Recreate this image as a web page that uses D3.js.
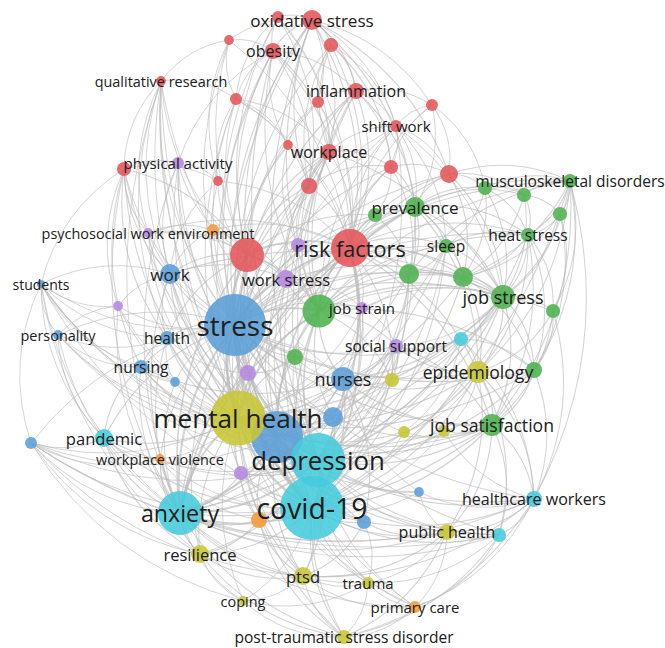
<!DOCTYPE html>
<html>
<head>
<meta charset="utf-8">
<script src="https://cdn.jsdelivr.net/npm/d3@7"></script>
<style>
  html, body { margin: 0; padding: 0; background: #fff; }
  svg { display: block; }
  .term { font-family: "Open Sans", "Noto Sans", sans-serif; fill: #202020; }
</style>
</head>
<body>
<svg id="map" width="665" height="648"></svg>
<script>
// Keyword co-occurrence map. Each item: [id, label (null = label hidden), mapX, mapY, occurrences]
const cluster1 = [ // red
  ["r0", "oxidative stress", 31.2, 2.0, 42],
  ["r1", null, 27.8, 1.7, 15],
  ["r2", null, 22.9, 4.0, 10],
  ["r3", "obesity", 27.3, 5.1, 27],
  ["r4", null, 33.1, 4.5, 21],
  ["r5", "qualitative research", 16.1, 8.1, 10],
  ["r6", null, 23.6, 9.9, 15],
  ["r7", "inflammation", 35.6, 9.1, 27],
  ["r8", null, 31.8, 10.2, 15],
  ["r9", null, 43.2, 10.5, 15],
  ["r10", "shift work", 39.6, 12.6, 15],
  ["r11", null, 28.8, 14.5, 10],
  ["r12", "workplace", 32.9, 15.2, 27],
  ["r13", null, 39.1, 16.7, 21],
  ["r14", null, 44.9, 17.4, 34],
  ["r15", null, 30.9, 18.6, 27],
  ["r16", null, 21.8, 18.1, 10],
  ["r17", null, 12.4, 16.9, 21],
  ["r18", null, 24.7, 25.5, 121],
  ["r19", "risk factors", 35.0, 24.8, 152]
];
const cluster2 = [ // green
  ["g0", "prevalence", 41.5, 20.7, 42],
  ["g1", null, 37.5, 21.5, 21],
  ["g2", null, 48.5, 18.8, 21],
  ["g3", null, 52.4, 19.5, 21],
  ["g4", "musculoskeletal disorders", 57.0, 18.1, 21],
  ["g5", null, 56.0, 21.4, 21],
  ["g6", "heat stress", 52.8, 23.5, 21],
  ["g7", "sleep", 44.6, 24.6, 21],
  ["g8", null, 40.9, 27.4, 42],
  ["g9", null, 46.3, 27.7, 42],
  ["g10", "job stress", 50.3, 29.7, 60],
  ["g11", null, 55.3, 31.1, 21],
  ["g12", null, 31.9, 31.1, 115],
  ["g13", null, 29.5, 35.7, 27],
  ["g14", null, 53.4, 37.0, 27],
  ["g15", "job satisfaction", 49.2, 42.5, 51]
];
const cluster3 = [ // blue
  ["b0", "stress", 23.5, 32.5, 404],
  ["b1", "work", 17.0, 27.4, 42],
  ["b2", "students", 4.1, 28.4, 7],
  ["b3", "personality", 5.8, 33.5, 10],
  ["b4", "health", 16.7, 33.8, 21],
  ["b5", "nursing", 14.1, 36.7, 21],
  ["b6", null, 17.5, 38.2, 10],
  ["b7", "nurses", 34.3, 37.9, 60],
  ["b8", null, 33.3, 41.7, 42],
  ["b9", null, 27.7, 43.7, 284],
  ["b10", null, 3.1, 44.3, 15],
  ["b11", null, 41.9, 49.2, 10],
  ["b12", null, 36.4, 52.2, 21]
];
const cluster4 = [ // purple
  ["p0", "physical activity", 17.8, 16.3, 15],
  ["p1", "psychosocial work environment", 14.8, 23.3, 10],
  ["p2", null, 29.8, 24.5, 21],
  ["p3", "work stress", 28.6, 27.9, 34],
  ["p4", "job strain", 36.2, 30.8, 15],
  ["p5", "social support", 39.6, 34.6, 21],
  ["p6", null, 24.8, 37.3, 27],
  ["p7", null, 24.1, 47.3, 21],
  ["p8", null, 11.8, 30.6, 10]
];
const cluster5 = [ // cyan
  ["c0", "depression", 31.8, 46.0, 306],
  ["c1", "covid-19", 31.2, 50.8, 430],
  ["c2", "anxiety", 18.0, 51.3, 203],
  ["c3", "pandemic", 10.4, 43.8, 34],
  ["c4", null, 46.1, 33.9, 21],
  ["c5", "healthcare workers", 53.4, 49.9, 27],
  ["c6", null, 49.9, 53.5, 21]
];
const cluster6 = [ // yellow
  ["y0", "mental health", 23.8, 41.8, 320],
  ["y1", null, 39.2, 38.0, 21],
  ["y2", null, 40.4, 43.2, 15],
  ["y3", null, 44.4, 43.1, 15],
  ["y4", "epidemiology", 47.8, 37.2, 51],
  ["y5", "public health", 44.7, 53.2, 27],
  ["y6", "resilience", 20.0, 55.4, 34],
  ["y7", "ptsd", 30.3, 57.6, 34],
  ["y8", "trauma", 36.8, 58.3, 15],
  ["y9", "coping", 24.3, 60.1, 10],
  ["y10", "post-traumatic stress disorder", 34.4, 63.7, 21]
];
const cluster7 = [ // orange
  ["o0", null, 21.3, 23.0, 15],
  ["o1", "workplace violence", 16.0, 45.9, 10],
  ["o2", null, 25.9, 52.0, 27],
  ["o3", "primary care", 41.5, 60.7, 15]
];
const clusterItems = [cluster1, cluster2, cluster3, cluster4, cluster5, cluster6, cluster7];

// Co-occurrence links, listed per source item.
const links = [
  ["r0", "r1 r3 r4 r7 r8 r12 r19 r18 b0 g12 r15 r14 r2 r9 y0 c0 r10 g0"],
  ["r1", "r3 r19 r18 b0 r12 r15 r6"],
  ["r2", "r3 r6 r19 b0 r18 r5 r16"],
  ["r3", "r19 r18 b0 r7 r12 r15 g12 c0 r6 r11 p0 y0"],
  ["r4", "r7 r8 r19 r12 r10 r13 b0 r15"],
  ["r5", "r6 b0 y0 c2 r18 b1 p1 r17 c0 b9 b7 c1 b4"],
  ["r6", "r19 r18 b0 r16 r12 r11 r15 y0"],
  ["r7", "r8 r12 r19 r10 r9 r13 b0 g12 c0 r15 g0"],
  ["r8", "r12 r19 r18 r11 b0"],
  ["r9", "r10 r14 r19 g0 r13 g2"],
  ["r10", "r12 r13 r19 r14 g7 g0 g12 b0 c0 y0 g10"],
  ["r11", "r15 r19 b0 r18 p2"],
  ["r12", "r15 r19 r18 b0 p3 g12 y0 c0 c1 r13 p2 b9 g10"],
  ["r13", "r19 g0 g1 r15 b0 g12 g8 r14"],
  ["r14", "g0 g2 r19 g3 g4 g9 g12 g10 b0"],
  ["r15", "r19 r18 b0 g12 p2 p3 y0"],
  ["r16", "r18 b0 p0 r17 b1 r19"],
  ["r17", "p0 b1 r18 b0 y0 c2 p1 b2 b4 c0 p8 b5"],
  ["r18", "r19 b0 p3 b1 y0 c0 c1 c2 g12 b9 p2 o0 b4 p1"],
  ["r19", "g12 g0 g1 g8 g9 g10 b0 y0 c0 c1 c2 b9 b7 p3 p4 y4 g15 g7 b8 y1"],
  ["g0", "g1 g2 g7 g8 g9 g10 g12 b0 y0 c0 c1 c2 g3 y4 g6"],
  ["g1", "g12 g8 b0 r18"],
  ["g2", "g3 g4 g9 g10 g6 g7"],
  ["g3", "g4 g5 g6 g10 g9"],
  ["g4", "g5 g6 g9 g10 g11 g12 b0 g8 y4 g14 g15 r19 c1 c5"],
  ["g5", "g6 g10 g11 g9 g14"],
  ["g6", "g7 g9 g10 g11 g14 g12 b0 y4 r19 c0 g15"],
  ["g7", "g8 g9 g10 b0 c0 y0 c2 g12 c1"],
  ["g8", "g9 g10 g12 b0 y0 c0 c1 p4"],
  ["g9", "g10 g12 b0 c0 y0 g14 y4"],
  ["g10", "g11 g12 g14 g15 b0 y0 c0 c1 c2 b7 p4 p5 y4 c4 p3 b9 b1"],
  ["g11", "g14 g15 g12 y4 c5"],
  ["g12", "p3 p4 b0 y0 c0 c1 c2 b9 b7 g13 p5 p2 b8 y1"],
  ["g13", "b0 y0 c0 b9 p6 b7"],
  ["g14", "g15 y4 c4 c5 g12 b0 c0 y0"],
  ["g15", "y3 y2 b7 b0 y0 c0 c1 c2 c5 c6 y5 y4 b8 b9 p5"],
  ["b0", "b1 b4 b5 b6 y0 c0 c1 c2 b9 b7 b8 p3 p6 p8 b2 b3 c3 o1 p7 y6 y7 c4 y4 b10 p1 p0"],
  ["b1", "b4 p1 b2 p8 y0 c0 c2 b9 p3 o0"],
  ["b2", "b3 b4 b5 y0 c0 c1 c2 b9 b6 p8 c3 y6"],
  ["b3", "b4 b5 y0 c0 c2 b9 p8 c3"],
  ["b4", "b5 b6 y0 c0 c2 b9 p6"],
  ["b5", "b6 b9 y0 c0 c2 c1 c3 b7"],
  ["b6", "y0 c0 c2"],
  ["b7", "b8 b9 y0 c0 c1 c2 p5 y1 y2 c4 y4 b11 b12 p4 g13"],
  ["b8", "b9 y0 c0 c1 c2 p5"],
  ["b9", "y0 c0 c1 c2 p6 p7 b12 y7 o2 y1"],
  ["b10", "c3 c2 y0 c0 c1 b9 y6 o1 y9 b2 y7 c6 y5"],
  ["b11", "c1 c0 y5 c5"],
  ["b12", "c1 c0 y5 y7 y8"],
  ["p0", "b0 y0 c0 c2 r18 b1 c1"],
  ["p1", "o0 b0 p3 y0 b9 r19"],
  ["p2", "p3 g12 b0"],
  ["p3", "p4 b0 y0 c0 b9 c1"],
  ["p4", "p5 b0 y0 c0 b9 b7"],
  ["p5", "b0 y0 c0 c1 c4 y4 y1 b9"],
  ["p6", "y0 c0 c1 c2"],
  ["p7", "c0 c1 c2 y0 o2"],
  ["p8", "b0 y0 c2 c0"],
  ["c0", "y0 c1 c2 b9 c3 c4 c5 c6 y4 y5 y6 y7 y8 y10 o2 o3 b11 y2 y3 o1"],
  ["c1", "y0 c2 b9 c3 c5 c6 y5 y6 y7 y8 y9 y10 o2 o3 b11 y4 o1 y3 y2"],
  ["c2", "y0 c3 o1 y6 y7 y9 y10 c5 c6 y5 y8 o2 o3 b9"],
  ["c3", "y0 o1 c1 y6"],
  ["c4", "y4 c5 y1 y2"],
  ["c5", "c6 y4 y5 y3 b0 y0 o3 y10 y7"],
  ["c6", "y5 y4 y10 o3 y8 b0 y0"],
  ["y0", "y1 y2 y3 y4 y5 y6 y7 y8 y9 y10 o1 o2 o3 b11 b12"],
  ["y4", "y3 y2 y5 b0 y0 c1"],
  ["y5", "y8 o3 y10 y7"],
  ["y6", "y7 y9 y10 o2"],
  ["y7", "y8 y9 y10 o3"],
  ["y8", "y10 o3 y9"],
  ["y9", "y10"],
  ["y10", "o3"],
  ["o0", "b0 p3 r19 p1 b1"],
  ["o1", "o2 y6"],
  ["o2", "y7 y10"],
  ["o3", "b0"]
];

const clusterColors = ["#e2555a", "#4db24e", "#5b9ed8", "#b488e0", "#46cbdc", "#c8c636", "#f29a3e"];

const W = 665, H = 648;
const svg = d3.select("#map");

const xScale = d3.scaleLinear().domain([0, 66.5]).range([0, W]);
const yScale = d3.scaleLinear().domain([0, 64.8]).range([0, H]);
const rScale = d3.scaleSqrt().domain([0, 430]).range([0, 32]);
const fontScale = d3.scaleLinear().domain([4, 32]).range([14, 28.4]);

const nodes = [];
clusterItems.forEach((items, ci) => {
  items.forEach(([id, label, mx, my, occ]) => {
    nodes.push({ id, label, cluster: ci, x: xScale(mx), y: yScale(my), r: rScale(occ), occ });
  });
});
const byId = new Map(nodes.map(n => [n.id, n]));

const edges = [];
const seen = new Set();
links.forEach(([s, targets]) => {
  targets.split(" ").forEach(t => {
    const key = s < t ? s + "|" + t : t + "|" + s;
    if (s === t || seen.has(key)) return;
    seen.add(key);
    edges.push({ source: byId.get(s), target: byId.get(t) });
  });
});

// Curved links that bow away from the centre of the map
const cx = W / 2, cy = H / 2;
function curve(e) {
  const a = e.source, b = e.target;
  const mx = (a.x + b.x) / 2, my = (a.y + b.y) / 2;
  const dx = b.x - a.x, dy = b.y - a.y;
  const len = Math.hypot(dx, dy) || 1;
  let nx = -dy / len, ny = dx / len;
  if ((mx - cx) * nx + (my - cy) * ny < 0) { nx = -nx; ny = -ny; }
  const k = 0.2 * len;
  const qx = mx + nx * k, qy = my + ny * k;
  const p = d3.path();
  p.moveTo(a.x, a.y);
  p.quadraticCurveTo(qx, qy, b.x, b.y);
  return p.toString();
}

svg.append("g")
  .attr("fill", "none")
  .attr("stroke", "#bcbcbc")
  .attr("stroke-opacity", 0.65)
  .selectAll("path")
  .data(edges)
  .join("path")
  .attr("stroke-width", d => 0.9 + Math.min(d.source.occ, d.target.occ) / 180)
  .attr("d", curve);

svg.append("g")
  .selectAll("circle")
  .data(nodes.slice().sort((a, b) => a.occ - b.occ))
  .join("circle")
  .attr("cx", d => d.x)
  .attr("cy", d => d.y)
  .attr("r", d => d.r)
  .attr("fill", d => clusterColors[d.cluster])
  .attr("fill-opacity", 0.88);

svg.append("g")
  .selectAll("text")
  .data(nodes.filter(d => d.label))
  .join("text")
  .attr("class", "term")
  .attr("x", d => d.x)
  .attr("y", d => d.y)
  .attr("text-anchor", "middle")
  .attr("dominant-baseline", "central")
  .attr("font-size", d => fontScale(d.r))
  .text(d => d.label);
</script>
</body>
</html>
